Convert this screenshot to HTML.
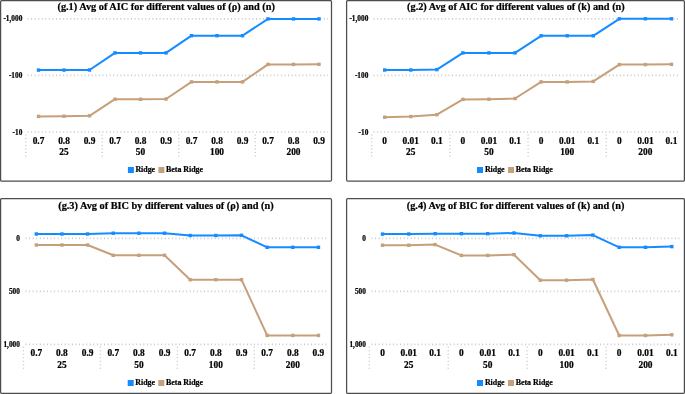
<!DOCTYPE html>
<html><head><meta charset="utf-8"><title>Charts</title>
<style>
html,body{margin:0;padding:0;background:#fff;}
body{width:685px;height:394px;overflow:hidden;}
svg{display:block;will-change:transform;}
.t{font-family:"Liberation Serif", serif;font-weight:bold;fill:#000;stroke:#000;stroke-width:0.22px;}
.gl{stroke:#c8c8c8;stroke-width:1.7;stroke-dasharray:1 2.57;}
.dv{stroke:#c8c8c8;stroke-width:1.4;stroke-dasharray:1 2.5;}
</style></head>
<body>
<svg width="685" height="394" viewBox="0 0 685 394">
<rect width="685" height="394" fill="#fff"/>
<rect x="0.6" y="0.6" width="330.9" height="180.6" rx="1.2" fill="#fff" stroke="#4d4d4d" stroke-width="1.25"/>
<text x="166.2" y="10.1" text-anchor="middle" font-size="10.3" class="t">(g.1) Avg of AIC for different values of (ρ) and (n)</text>
<line x1="27.5" y1="18.8" x2="328" y2="18.8" class="gl"/>
<text x="22.3" y="21.3" text-anchor="end" font-size="7.3" class="t">-1,000</text>
<line x1="27.5" y1="75.4" x2="328" y2="75.4" class="gl"/>
<text x="22.3" y="77.9" text-anchor="end" font-size="7.3" class="t">-100</text>
<line x1="27.5" y1="132" x2="328" y2="132" class="gl"/>
<text x="22.3" y="134.5" text-anchor="end" font-size="7.3" class="t">-10</text>
<line x1="25.75" y1="134.5" x2="25.75" y2="157.8" class="dv"/>
<line x1="102.25" y1="134.5" x2="102.25" y2="157.8" class="dv"/>
<line x1="178.75" y1="134.5" x2="178.75" y2="157.8" class="dv"/>
<line x1="255.25" y1="134.5" x2="255.25" y2="157.8" class="dv"/>
<text x="38.5" y="143.8" text-anchor="middle" font-size="9.4" class="t">0.7</text>
<text x="64" y="143.8" text-anchor="middle" font-size="9.4" class="t">0.8</text>
<text x="89.5" y="143.8" text-anchor="middle" font-size="9.4" class="t">0.9</text>
<text x="115" y="143.8" text-anchor="middle" font-size="9.4" class="t">0.7</text>
<text x="140.5" y="143.8" text-anchor="middle" font-size="9.4" class="t">0.8</text>
<text x="166" y="143.8" text-anchor="middle" font-size="9.4" class="t">0.9</text>
<text x="191.5" y="143.8" text-anchor="middle" font-size="9.4" class="t">0.7</text>
<text x="217" y="143.8" text-anchor="middle" font-size="9.4" class="t">0.8</text>
<text x="242.5" y="143.8" text-anchor="middle" font-size="9.4" class="t">0.9</text>
<text x="268" y="143.8" text-anchor="middle" font-size="9.4" class="t">0.7</text>
<text x="293.5" y="143.8" text-anchor="middle" font-size="9.4" class="t">0.8</text>
<text x="319" y="143.8" text-anchor="middle" font-size="9.4" class="t">0.9</text>
<text x="64" y="155" text-anchor="middle" font-size="9.4" class="t">25</text>
<text x="140.5" y="155" text-anchor="middle" font-size="9.4" class="t">50</text>
<text x="217" y="155" text-anchor="middle" font-size="9.4" class="t">100</text>
<text x="293.5" y="155" text-anchor="middle" font-size="9.4" class="t">200</text>
<polyline points="38.5,116.4 64,116.2 89.5,115.8 115,99.2 140.5,99.3 166,99 191.5,81.9 217,81.9 242.5,81.9 268,64.4 293.5,64.4 319,64.3" fill="none" stroke="#C69F7B" stroke-width="2" stroke-linejoin="round"/>
<rect x="36.8" y="114.7" width="3.4" height="3.4" fill="#C69F7B"/>
<rect x="62.3" y="114.5" width="3.4" height="3.4" fill="#C69F7B"/>
<rect x="87.8" y="114.1" width="3.4" height="3.4" fill="#C69F7B"/>
<rect x="113.3" y="97.5" width="3.4" height="3.4" fill="#C69F7B"/>
<rect x="138.8" y="97.6" width="3.4" height="3.4" fill="#C69F7B"/>
<rect x="164.3" y="97.3" width="3.4" height="3.4" fill="#C69F7B"/>
<rect x="189.8" y="80.2" width="3.4" height="3.4" fill="#C69F7B"/>
<rect x="215.3" y="80.2" width="3.4" height="3.4" fill="#C69F7B"/>
<rect x="240.8" y="80.2" width="3.4" height="3.4" fill="#C69F7B"/>
<rect x="266.3" y="62.7" width="3.4" height="3.4" fill="#C69F7B"/>
<rect x="291.8" y="62.7" width="3.4" height="3.4" fill="#C69F7B"/>
<rect x="317.3" y="62.6" width="3.4" height="3.4" fill="#C69F7B"/>
<polyline points="38.5,70.1 64,70.1 89.5,70 115,52.9 140.5,52.9 166,52.9 191.5,35.7 217,35.7 242.5,35.7 268,18.9 293.5,18.9 319,18.9" fill="none" stroke="#148CFF" stroke-width="2" stroke-linejoin="round"/>
<rect x="36.8" y="68.4" width="3.4" height="3.4" fill="#148CFF"/>
<rect x="62.3" y="68.4" width="3.4" height="3.4" fill="#148CFF"/>
<rect x="87.8" y="68.3" width="3.4" height="3.4" fill="#148CFF"/>
<rect x="113.3" y="51.2" width="3.4" height="3.4" fill="#148CFF"/>
<rect x="138.8" y="51.2" width="3.4" height="3.4" fill="#148CFF"/>
<rect x="164.3" y="51.2" width="3.4" height="3.4" fill="#148CFF"/>
<rect x="189.8" y="34" width="3.4" height="3.4" fill="#148CFF"/>
<rect x="215.3" y="34" width="3.4" height="3.4" fill="#148CFF"/>
<rect x="240.8" y="34" width="3.4" height="3.4" fill="#148CFF"/>
<rect x="266.3" y="17.2" width="3.4" height="3.4" fill="#148CFF"/>
<rect x="291.8" y="17.2" width="3.4" height="3.4" fill="#148CFF"/>
<rect x="317.3" y="17.2" width="3.4" height="3.4" fill="#148CFF"/>
<rect x="127.9" y="167" width="6" height="6" fill="#148CFF"/>
<text x="135.4" y="172.1" font-size="7.9" class="t">Ridge</text>
<rect x="158.4" y="167" width="6" height="6" fill="#C69F7B"/>
<text x="166" y="172.1" font-size="7.9" class="t">Beta Ridge</text>
<rect x="346.6" y="0.6" width="337.8" height="180.6" rx="1.2" fill="#fff" stroke="#4d4d4d" stroke-width="1.25"/>
<text x="515.9" y="10.1" text-anchor="middle" font-size="10.3" class="t">(g.2) Avg of AIC for different values of (k) and (n)</text>
<line x1="373.5" y1="18.8" x2="680" y2="18.8" class="gl"/>
<text x="368.3" y="21.3" text-anchor="end" font-size="7.3" class="t">-1,000</text>
<line x1="373.5" y1="75.4" x2="680" y2="75.4" class="gl"/>
<text x="368.3" y="77.9" text-anchor="end" font-size="7.3" class="t">-100</text>
<line x1="373.5" y1="132" x2="680" y2="132" class="gl"/>
<text x="368.3" y="134.5" text-anchor="end" font-size="7.3" class="t">-10</text>
<line x1="371.66" y1="134.5" x2="371.66" y2="157.8" class="dv"/>
<line x1="449.88" y1="134.5" x2="449.88" y2="157.8" class="dv"/>
<line x1="528.09" y1="134.5" x2="528.09" y2="157.8" class="dv"/>
<line x1="606.29" y1="134.5" x2="606.29" y2="157.8" class="dv"/>
<text x="384.7" y="143.8" text-anchor="middle" font-size="9.4" class="t">0</text>
<text x="410.77" y="143.8" text-anchor="middle" font-size="9.4" class="t">0.01</text>
<text x="436.84" y="143.8" text-anchor="middle" font-size="9.4" class="t">0.1</text>
<text x="462.91" y="143.8" text-anchor="middle" font-size="9.4" class="t">0</text>
<text x="488.98" y="143.8" text-anchor="middle" font-size="9.4" class="t">0.01</text>
<text x="515.05" y="143.8" text-anchor="middle" font-size="9.4" class="t">0.1</text>
<text x="541.12" y="143.8" text-anchor="middle" font-size="9.4" class="t">0</text>
<text x="567.19" y="143.8" text-anchor="middle" font-size="9.4" class="t">0.01</text>
<text x="593.26" y="143.8" text-anchor="middle" font-size="9.4" class="t">0.1</text>
<text x="619.33" y="143.8" text-anchor="middle" font-size="9.4" class="t">0</text>
<text x="645.4" y="143.8" text-anchor="middle" font-size="9.4" class="t">0.01</text>
<text x="671.47" y="143.8" text-anchor="middle" font-size="9.4" class="t">0.1</text>
<text x="410.77" y="155" text-anchor="middle" font-size="9.4" class="t">25</text>
<text x="488.98" y="155" text-anchor="middle" font-size="9.4" class="t">50</text>
<text x="567.19" y="155" text-anchor="middle" font-size="9.4" class="t">100</text>
<text x="645.4" y="155" text-anchor="middle" font-size="9.4" class="t">200</text>
<polyline points="384.7,117.2 410.77,116.5 436.84,114.7 462.91,99.4 488.98,99.2 515.05,98.5 541.12,81.9 567.19,81.9 593.26,81.4 619.33,64.6 645.4,64.6 671.47,64.3" fill="none" stroke="#C69F7B" stroke-width="2" stroke-linejoin="round"/>
<rect x="383" y="115.5" width="3.4" height="3.4" fill="#C69F7B"/>
<rect x="409.07" y="114.8" width="3.4" height="3.4" fill="#C69F7B"/>
<rect x="435.14" y="113" width="3.4" height="3.4" fill="#C69F7B"/>
<rect x="461.21" y="97.7" width="3.4" height="3.4" fill="#C69F7B"/>
<rect x="487.28" y="97.5" width="3.4" height="3.4" fill="#C69F7B"/>
<rect x="513.35" y="96.8" width="3.4" height="3.4" fill="#C69F7B"/>
<rect x="539.42" y="80.2" width="3.4" height="3.4" fill="#C69F7B"/>
<rect x="565.49" y="80.2" width="3.4" height="3.4" fill="#C69F7B"/>
<rect x="591.56" y="79.7" width="3.4" height="3.4" fill="#C69F7B"/>
<rect x="617.63" y="62.9" width="3.4" height="3.4" fill="#C69F7B"/>
<rect x="643.7" y="62.9" width="3.4" height="3.4" fill="#C69F7B"/>
<rect x="669.77" y="62.6" width="3.4" height="3.4" fill="#C69F7B"/>
<polyline points="384.7,70 410.77,70 436.84,69.6 462.91,52.9 488.98,52.9 515.05,52.9 541.12,35.8 567.19,35.8 593.26,35.8 619.33,18.8 645.4,18.8 671.47,18.8" fill="none" stroke="#148CFF" stroke-width="2" stroke-linejoin="round"/>
<rect x="383" y="68.3" width="3.4" height="3.4" fill="#148CFF"/>
<rect x="409.07" y="68.3" width="3.4" height="3.4" fill="#148CFF"/>
<rect x="435.14" y="67.9" width="3.4" height="3.4" fill="#148CFF"/>
<rect x="461.21" y="51.2" width="3.4" height="3.4" fill="#148CFF"/>
<rect x="487.28" y="51.2" width="3.4" height="3.4" fill="#148CFF"/>
<rect x="513.35" y="51.2" width="3.4" height="3.4" fill="#148CFF"/>
<rect x="539.42" y="34.1" width="3.4" height="3.4" fill="#148CFF"/>
<rect x="565.49" y="34.1" width="3.4" height="3.4" fill="#148CFF"/>
<rect x="591.56" y="34.1" width="3.4" height="3.4" fill="#148CFF"/>
<rect x="617.63" y="17.1" width="3.4" height="3.4" fill="#148CFF"/>
<rect x="643.7" y="17.1" width="3.4" height="3.4" fill="#148CFF"/>
<rect x="669.77" y="17.1" width="3.4" height="3.4" fill="#148CFF"/>
<rect x="477" y="167" width="6" height="6" fill="#148CFF"/>
<text x="484.9" y="172.1" font-size="7.9" class="t">Ridge</text>
<rect x="508" y="167" width="6" height="6" fill="#C69F7B"/>
<text x="515.7" y="172.1" font-size="7.9" class="t">Beta Ridge</text>
<rect x="0.6" y="198.7" width="330.9" height="194.7" rx="1.2" fill="#fff" stroke="#4d4d4d" stroke-width="1.25"/>
<text x="165.9" y="208.8" text-anchor="middle" font-size="10.3" class="t">(g.3) Avg of BIC by different values of (ρ) and (n)</text>
<line x1="25.5" y1="238.3" x2="328" y2="238.3" class="gl"/>
<text x="19.9" y="240.8" text-anchor="end" font-size="7.3" class="t">0</text>
<line x1="25.5" y1="291.3" x2="328" y2="291.3" class="gl"/>
<text x="19.9" y="293.8" text-anchor="end" font-size="7.3" class="t">500</text>
<line x1="25.5" y1="344.4" x2="328" y2="344.4" class="gl"/>
<text x="19.9" y="346.9" text-anchor="end" font-size="7.3" class="t">1,000</text>
<line x1="23.47" y1="346.7" x2="23.47" y2="369.8" class="dv"/>
<line x1="100.42" y1="346.7" x2="100.42" y2="369.8" class="dv"/>
<line x1="177.37" y1="346.7" x2="177.37" y2="369.8" class="dv"/>
<line x1="254.32" y1="346.7" x2="254.32" y2="369.8" class="dv"/>
<text x="36.3" y="356.2" text-anchor="middle" font-size="9.4" class="t">0.7</text>
<text x="61.95" y="356.2" text-anchor="middle" font-size="9.4" class="t">0.8</text>
<text x="87.6" y="356.2" text-anchor="middle" font-size="9.4" class="t">0.9</text>
<text x="113.25" y="356.2" text-anchor="middle" font-size="9.4" class="t">0.7</text>
<text x="138.9" y="356.2" text-anchor="middle" font-size="9.4" class="t">0.8</text>
<text x="164.55" y="356.2" text-anchor="middle" font-size="9.4" class="t">0.9</text>
<text x="190.2" y="356.2" text-anchor="middle" font-size="9.4" class="t">0.7</text>
<text x="215.85" y="356.2" text-anchor="middle" font-size="9.4" class="t">0.8</text>
<text x="241.5" y="356.2" text-anchor="middle" font-size="9.4" class="t">0.9</text>
<text x="267.15" y="356.2" text-anchor="middle" font-size="9.4" class="t">0.7</text>
<text x="292.8" y="356.2" text-anchor="middle" font-size="9.4" class="t">0.8</text>
<text x="318.45" y="356.2" text-anchor="middle" font-size="9.4" class="t">0.9</text>
<text x="61.95" y="367.7" text-anchor="middle" font-size="9.4" class="t">25</text>
<text x="138.9" y="367.7" text-anchor="middle" font-size="9.4" class="t">50</text>
<text x="215.85" y="367.7" text-anchor="middle" font-size="9.4" class="t">100</text>
<text x="292.8" y="367.7" text-anchor="middle" font-size="9.4" class="t">200</text>
<polyline points="36.3,245 61.95,245 87.6,245 113.25,255.3 138.9,255.3 164.55,255.3 190.2,279.7 215.85,279.7 241.5,279.7 267.15,335.4 292.8,335.4 318.45,335.4" fill="none" stroke="#C69F7B" stroke-width="2" stroke-linejoin="round"/>
<rect x="34.6" y="243.3" width="3.4" height="3.4" fill="#C69F7B"/>
<rect x="60.25" y="243.3" width="3.4" height="3.4" fill="#C69F7B"/>
<rect x="85.9" y="243.3" width="3.4" height="3.4" fill="#C69F7B"/>
<rect x="111.55" y="253.6" width="3.4" height="3.4" fill="#C69F7B"/>
<rect x="137.2" y="253.6" width="3.4" height="3.4" fill="#C69F7B"/>
<rect x="162.85" y="253.6" width="3.4" height="3.4" fill="#C69F7B"/>
<rect x="188.5" y="278" width="3.4" height="3.4" fill="#C69F7B"/>
<rect x="214.15" y="278" width="3.4" height="3.4" fill="#C69F7B"/>
<rect x="239.8" y="278" width="3.4" height="3.4" fill="#C69F7B"/>
<rect x="265.45" y="333.7" width="3.4" height="3.4" fill="#C69F7B"/>
<rect x="291.1" y="333.7" width="3.4" height="3.4" fill="#C69F7B"/>
<rect x="316.75" y="333.7" width="3.4" height="3.4" fill="#C69F7B"/>
<polyline points="36.3,234 61.95,234 87.6,234 113.25,233.2 138.9,233.2 164.55,233.2 190.2,235.5 215.85,235.5 241.5,235.3 267.15,247.3 292.8,247.3 318.45,247.3" fill="none" stroke="#148CFF" stroke-width="2" stroke-linejoin="round"/>
<rect x="34.6" y="232.3" width="3.4" height="3.4" fill="#148CFF"/>
<rect x="60.25" y="232.3" width="3.4" height="3.4" fill="#148CFF"/>
<rect x="85.9" y="232.3" width="3.4" height="3.4" fill="#148CFF"/>
<rect x="111.55" y="231.5" width="3.4" height="3.4" fill="#148CFF"/>
<rect x="137.2" y="231.5" width="3.4" height="3.4" fill="#148CFF"/>
<rect x="162.85" y="231.5" width="3.4" height="3.4" fill="#148CFF"/>
<rect x="188.5" y="233.8" width="3.4" height="3.4" fill="#148CFF"/>
<rect x="214.15" y="233.8" width="3.4" height="3.4" fill="#148CFF"/>
<rect x="239.8" y="233.6" width="3.4" height="3.4" fill="#148CFF"/>
<rect x="265.45" y="245.6" width="3.4" height="3.4" fill="#148CFF"/>
<rect x="291.1" y="245.6" width="3.4" height="3.4" fill="#148CFF"/>
<rect x="316.75" y="245.6" width="3.4" height="3.4" fill="#148CFF"/>
<rect x="127.7" y="380" width="6" height="6" fill="#148CFF"/>
<text x="135.3" y="385" font-size="7.9" class="t">Ridge</text>
<rect x="158.3" y="380" width="6" height="6" fill="#C69F7B"/>
<text x="166" y="385" font-size="7.9" class="t">Beta Ridge</text>
<rect x="346.6" y="198.7" width="337.8" height="194.7" rx="1.2" fill="#fff" stroke="#4d4d4d" stroke-width="1.25"/>
<text x="515.6" y="208.8" text-anchor="middle" font-size="10.3" class="t">(g.4) Avg of BIC for different values of (k) and (n)</text>
<line x1="371.5" y1="238.3" x2="680" y2="238.3" class="gl"/>
<text x="365.9" y="240.8" text-anchor="end" font-size="7.3" class="t">0</text>
<line x1="371.5" y1="291.3" x2="680" y2="291.3" class="gl"/>
<text x="365.9" y="293.8" text-anchor="end" font-size="7.3" class="t">500</text>
<line x1="371.5" y1="344.4" x2="680" y2="344.4" class="gl"/>
<text x="365.9" y="346.9" text-anchor="end" font-size="7.3" class="t">1,000</text>
<line x1="369.35" y1="346.7" x2="369.35" y2="369.8" class="dv"/>
<line x1="448.25" y1="346.7" x2="448.25" y2="369.8" class="dv"/>
<line x1="527.15" y1="346.7" x2="527.15" y2="369.8" class="dv"/>
<line x1="606.05" y1="346.7" x2="606.05" y2="369.8" class="dv"/>
<text x="382.5" y="356.2" text-anchor="middle" font-size="9.4" class="t">0</text>
<text x="408.8" y="356.2" text-anchor="middle" font-size="9.4" class="t">0.01</text>
<text x="435.1" y="356.2" text-anchor="middle" font-size="9.4" class="t">0.1</text>
<text x="461.4" y="356.2" text-anchor="middle" font-size="9.4" class="t">0</text>
<text x="487.7" y="356.2" text-anchor="middle" font-size="9.4" class="t">0.01</text>
<text x="514" y="356.2" text-anchor="middle" font-size="9.4" class="t">0.1</text>
<text x="540.3" y="356.2" text-anchor="middle" font-size="9.4" class="t">0</text>
<text x="566.6" y="356.2" text-anchor="middle" font-size="9.4" class="t">0.01</text>
<text x="592.9" y="356.2" text-anchor="middle" font-size="9.4" class="t">0.1</text>
<text x="619.2" y="356.2" text-anchor="middle" font-size="9.4" class="t">0</text>
<text x="645.5" y="356.2" text-anchor="middle" font-size="9.4" class="t">0.01</text>
<text x="671.8" y="356.2" text-anchor="middle" font-size="9.4" class="t">0.1</text>
<text x="408.8" y="367.7" text-anchor="middle" font-size="9.4" class="t">25</text>
<text x="487.7" y="367.7" text-anchor="middle" font-size="9.4" class="t">50</text>
<text x="566.6" y="367.7" text-anchor="middle" font-size="9.4" class="t">100</text>
<text x="645.5" y="367.7" text-anchor="middle" font-size="9.4" class="t">200</text>
<polyline points="382.5,245.2 408.8,245.2 435.1,244.6 461.4,255.4 487.7,255.4 514,254.7 540.3,280.2 566.6,280.2 592.9,279.5 619.2,335.5 645.5,335.5 671.8,334.8" fill="none" stroke="#C69F7B" stroke-width="2" stroke-linejoin="round"/>
<rect x="380.8" y="243.5" width="3.4" height="3.4" fill="#C69F7B"/>
<rect x="407.1" y="243.5" width="3.4" height="3.4" fill="#C69F7B"/>
<rect x="433.4" y="242.9" width="3.4" height="3.4" fill="#C69F7B"/>
<rect x="459.7" y="253.7" width="3.4" height="3.4" fill="#C69F7B"/>
<rect x="486" y="253.7" width="3.4" height="3.4" fill="#C69F7B"/>
<rect x="512.3" y="253" width="3.4" height="3.4" fill="#C69F7B"/>
<rect x="538.6" y="278.5" width="3.4" height="3.4" fill="#C69F7B"/>
<rect x="564.9" y="278.5" width="3.4" height="3.4" fill="#C69F7B"/>
<rect x="591.2" y="277.8" width="3.4" height="3.4" fill="#C69F7B"/>
<rect x="617.5" y="333.8" width="3.4" height="3.4" fill="#C69F7B"/>
<rect x="643.8" y="333.8" width="3.4" height="3.4" fill="#C69F7B"/>
<rect x="670.1" y="333.1" width="3.4" height="3.4" fill="#C69F7B"/>
<polyline points="382.5,234.1 408.8,234 435.1,233.7 461.4,233.7 487.7,233.7 514,233 540.3,235.8 566.6,235.8 592.9,235.1 619.2,247.3 645.5,247.3 671.8,246.6" fill="none" stroke="#148CFF" stroke-width="2" stroke-linejoin="round"/>
<rect x="380.8" y="232.4" width="3.4" height="3.4" fill="#148CFF"/>
<rect x="407.1" y="232.3" width="3.4" height="3.4" fill="#148CFF"/>
<rect x="433.4" y="232" width="3.4" height="3.4" fill="#148CFF"/>
<rect x="459.7" y="232" width="3.4" height="3.4" fill="#148CFF"/>
<rect x="486" y="232" width="3.4" height="3.4" fill="#148CFF"/>
<rect x="512.3" y="231.3" width="3.4" height="3.4" fill="#148CFF"/>
<rect x="538.6" y="234.1" width="3.4" height="3.4" fill="#148CFF"/>
<rect x="564.9" y="234.1" width="3.4" height="3.4" fill="#148CFF"/>
<rect x="591.2" y="233.4" width="3.4" height="3.4" fill="#148CFF"/>
<rect x="617.5" y="245.6" width="3.4" height="3.4" fill="#148CFF"/>
<rect x="643.8" y="245.6" width="3.4" height="3.4" fill="#148CFF"/>
<rect x="670.1" y="244.9" width="3.4" height="3.4" fill="#148CFF"/>
<rect x="477" y="380" width="6" height="6" fill="#148CFF"/>
<text x="484.9" y="385" font-size="7.9" class="t">Ridge</text>
<rect x="508" y="380" width="6" height="6" fill="#C69F7B"/>
<text x="515.7" y="385" font-size="7.9" class="t">Beta Ridge</text>
</svg>
</body></html>
